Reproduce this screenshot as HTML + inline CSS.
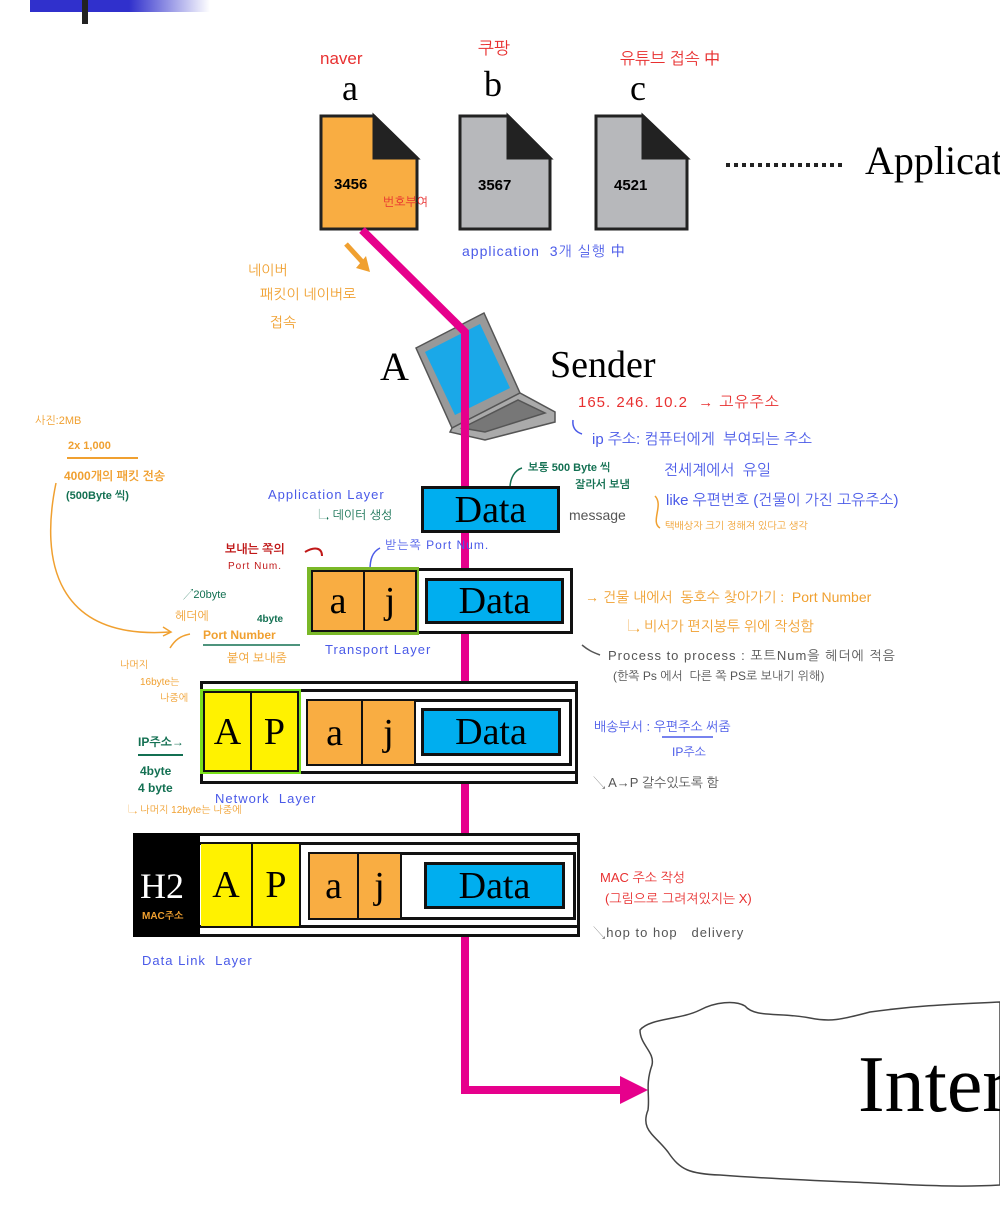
<!DOCTYPE html>
<html><head><meta charset="utf-8"><style>
body{margin:0;width:1000px;height:1206px;position:relative;background:#fff;overflow:hidden;font-family:"Liberation Sans","Noto Sans CJK KR",sans-serif}
.a{position:absolute;white-space:nowrap;line-height:1}
.s{font-family:"Liberation Serif",serif;color:#000}
.h{font-family:"Liberation Sans","NanumGothic","Noto Sans CJK KR",sans-serif;font-size:13px}
.o{color:#f0a030}.r{color:#e83030}.b{color:#4a5ae8}.g{color:#137052}.k{color:#555}
.box{position:absolute;box-sizing:border-box}
.cell{position:absolute;box-sizing:border-box;display:flex;align-items:center;justify-content:center;font-family:"Liberation Serif",serif;font-size:38px}
</style></head><body>
<div class="box" style="left:30px;top:0;width:180px;height:12px;background:linear-gradient(90deg,#3030cc 0%,#3030cc 55%,#fff 100%)"></div>
<div class="box" style="left:82px;top:0;width:6px;height:24px;background:#222"></div>

<svg width="1000" height="1206" style="position:absolute;left:0;top:0">
 <g stroke="#222" stroke-width="3">
  <path d="M321 116H374L417 158V229H321Z" fill="#f9ad42"/>
  <path d="M374 116V158H417Z" fill="#222"/>
  <path d="M460 116H508L550 158V229H460Z" fill="#b7b8bb"/>
  <path d="M508 116V158H550Z" fill="#222"/>
  <path d="M596 116H643L687 158V229H596Z" fill="#b7b8bb"/>
  <path d="M643 116V158H687Z" fill="#222"/>
 </g>
 <!-- dotted line -->
 <path d="M726 165H845" stroke="#222" stroke-width="4" stroke-dasharray="4 4"/>
 <!-- laptop -->
 <g stroke="#555" stroke-width="1.5">
  <path d="M416 348L484 313L520 393L452 428Z" fill="#999"/>
  <path d="M425 352L480 324L510 388L455 415Z" fill="#1aa8e8" stroke="none"/>
  <path d="M452 428L520 393L555 412L555 422L485 440L450 432Z" fill="#aaa"/>
  <path d="M462 428L518 400L545 413L485 432Z" fill="#777"/>
 </g>
 <path d="M346 244L366 266" stroke="#f0a030" stroke-width="5"/>
 <path d="M356 268L370 272L366 256Z" fill="#f0a030"/>
 <path d="M362 230L465 332V1090H625" stroke="#e6008c" stroke-width="8" fill="none"/>
 <path d="M620 1076L648 1090L620 1104Z" fill="#e6008c"/>
 <path d="M640 1030C650 1018 680 1020 700 1010C715 1002 735 1000 745 1006C755 1018 780 1012 810 1018C830 1022 840 1020 870 1012C920 1005 960 1004 1000 1002V1185C950 1188 900 1184 850 1182C800 1180 760 1178 720 1175C690 1174 680 1170 668 1152C655 1135 640 1130 648 1110C650 1095 645 1085 652 1065C655 1052 640 1045 640 1030Z" fill="#fff" stroke="#444" stroke-width="1.5"/>
 <path d="M56 483C40 560 55 640 170 632" stroke="#f0a030" stroke-width="1.5" fill="none"/>
 <path d="M163 627L171 632L163 636" stroke="#f0a030" stroke-width="1.5" fill="none"/>
 <path d="M170 648C175 640 180 636 190 634" stroke="#f0a030" stroke-width="1.5" fill="none"/>
 <path d="M322 556C322 548 315 546 305 552" stroke="#c01818" stroke-width="2" fill="none"/>
 <path d="M370 570C370 560 372 552 380 548" stroke="#4a5ae8" stroke-width="1.5" fill="none"/>
 <path d="M510 488C510 478 515 470 522 468" stroke="#137052" stroke-width="1.5" fill="none"/>
 <path d="M655 496C664 505 650 522 660 528" stroke="#f0a030" stroke-width="1.5" fill="none"/>
 <path d="M582 645C588 650 592 652 600 655" stroke="#555" stroke-width="1.5" fill="none"/>
 <path d="M573 420C572 428 576 432 582 434" stroke="#4a5ae8" stroke-width="1.5" fill="none"/>
 <path d="M67 458H138" stroke="#f0a030" stroke-width="2"/>
 <path d="M203 645H300" stroke="#137052" stroke-width="1.5"/>
 <path d="M138 755H183" stroke="#137052" stroke-width="2"/>
 <path d="M662 737H713" stroke="#4a5ae8" stroke-width="1.5"/>
</svg>

<div class="a h r" style="left:320px;top:50px;font-size:17px">naver</div>
<div class="a h r" style="left:478px;top:40px;font-size:17px">쿠팡</div>
<div class="a h r" style="left:620px;top:52px;font-size:16px">유튜브 접속 中</div>
<div class="a s" style="left:342px;top:70px;font-size:36px">a</div>
<div class="a s" style="left:484px;top:66px;font-size:36px">b</div>
<div class="a s" style="left:630px;top:70px;font-size:36px">c</div>
<div class="a h" style="left:334px;top:177px;font-size:15px;font-weight:bold">3456</div>
<div class="a h r" style="left:383px;top:196px;font-size:12px">번호부여</div>
<div class="a h" style="left:478px;top:178px;font-size:15px;font-weight:bold">3567</div>
<div class="a h" style="left:614px;top:178px;font-size:15px;font-weight:bold">4521</div>
<div class="a s" style="left:865px;top:141px;font-size:40px">Applicat</div>
<div class="a h b" style="left:462px;top:244px;font-size:14px;letter-spacing:1px">application &nbsp;3개 실행 中</div>
<div class="a h o" style="left:248px;top:263px;font-size:14px">네이버</div>
<div class="a h o" style="left:260px;top:287px;font-size:14px">패킷이 네이버로</div>
<div class="a h o" style="left:270px;top:315px;font-size:14px">접속</div>
<div class="a s" style="left:380px;top:347px;font-size:40px">A</div>
<div class="a s" style="left:550px;top:346px;font-size:38px">Sender</div>

<div class="a h r" style="left:578px;top:395px;font-size:15px;letter-spacing:1px">165. 246. 10.2 &nbsp;→ 고유주소</div>
<div class="a h b" style="left:592px;top:432px;font-size:15px">ip 주소: 컴퓨터에게 &nbsp;부여되는 주소</div>
<div class="a h b" style="left:664px;top:463px;font-size:15px">전세계에서 &nbsp;유일</div>
<div class="a h b" style="left:666px;top:493px;font-size:15px">like 우편번호 (건물이 가진 고유주소)</div>
<div class="a h o" style="left:665px;top:522px;font-size:10px">택배상자 크기 정해져 있다고 생각</div>
<div class="a h k" style="left:569px;top:508px;font-size:14px">message</div>
<div class="a h g" style="left:528px;top:463px;font-size:11px;font-weight:bold">보통 500 Byte 씩</div>
<div class="a h g" style="left:575px;top:480px;font-size:11px;font-weight:bold">잘라서 보냄</div>

<div class="a h b" style="left:268px;top:488px;font-size:13px;letter-spacing:1px">Application Layer</div>
<div class="a h g" style="left:318px;top:509px;font-size:12px">↳ 데이터 생성</div>
<div class="cell" style="left:421px;top:486px;width:139px;height:47px;background:#00aeef;border:3px solid #111">Data</div>

<div class="a h" style="left:225px;top:543px;font-size:12px;color:#c01818;font-weight:bold">보내는 쪽의</div>
<div class="a h" style="left:228px;top:562px;font-size:10px;color:#c01818;letter-spacing:1px">Port Num.</div>
<div class="a h b" style="left:385px;top:539px;font-size:12px;letter-spacing:1px">받는쪽 Port Num.</div>
<div class="box" style="left:308px;top:568px;width:265px;height:66px;border:3px solid #111;background:#fff"></div>
<div class="box" style="left:307px;top:567px;width:112px;height:68px;border:3px solid #7ab828;background:#7ab828"></div>
<div class="cell" style="left:311px;top:570px;width:54px;height:62px;background:#f9ad42;border:2px solid #111">a</div>
<div class="cell" style="left:363px;top:570px;width:54px;height:62px;background:#f9ad42;border:2px solid #111">j</div>
<div class="cell" style="left:425px;top:578px;width:139px;height:46px;background:#00aeef;border:3px solid #111">Data</div>
<div class="a h b" style="left:325px;top:643px;font-size:13px;letter-spacing:1px">Transport Layer</div>
<div class="a h o" style="left:585px;top:590px;font-size:14px">→ 건물 내에서 &nbsp;동호수 찾아가기 : &nbsp;Port Number</div>
<div class="a h o" style="left:627px;top:619px;font-size:14px">↳ 비서가 편지봉투 위에 작성함</div>
<div class="a h k" style="left:608px;top:649px;font-size:13px;letter-spacing:1px">Process to process : 포트Num을 헤더에 적음</div>
<div class="a h k" style="left:613px;top:670px;font-size:12px">(한쪽 Ps 에서 &nbsp;다른 쪽 PS로 보내기 위해)</div>

<div class="a h o" style="left:35px;top:416px;font-size:11px">사진:2MB</div>
<div class="a h o" style="left:68px;top:441px;font-size:11px;font-weight:bold">2x 1,000</div>
<div class="a h o" style="left:64px;top:470px;font-size:12px;font-weight:bold">4000개의 패킷 전송</div>
<div class="a h g" style="left:66px;top:491px;font-size:11px;font-weight:bold">(500Byte 씩)</div>
<div class="a h g" style="left:183px;top:590px;font-size:11px">↗20byte</div>
<div class="a h o" style="left:175px;top:610px;font-size:12px">헤더에</div>
<div class="a h g" style="left:257px;top:615px;font-size:10px;font-weight:bold">4byte</div>
<div class="a h o" style="left:203px;top:629px;font-size:12px;font-weight:bold">Port Number</div>
<div class="a h o" style="left:227px;top:652px;font-size:12px">붙여 보내줌</div>
<div class="a h o" style="left:120px;top:661px;font-size:10px">나머지</div>
<div class="a h o" style="left:140px;top:678px;font-size:10px">16byte는</div>
<div class="a h o" style="left:160px;top:694px;font-size:10px">나중에</div>
<div class="a h g" style="left:138px;top:736px;font-size:12px;font-weight:bold">IP주소→</div>
<div class="a h g" style="left:140px;top:765px;font-size:12px;font-weight:bold">4byte</div>
<div class="a h g" style="left:138px;top:782px;font-size:12px;font-weight:bold">4 byte</div>
<div class="a h o" style="left:128px;top:806px;font-size:10px">↳ 나머지 12byte는 나중에</div>

<div class="box" style="left:200px;top:681px;width:378px;height:103px;border:3px solid #111;background:#fff"></div>
<div class="box" style="left:200px;top:689px;width:378px;height:85px;border:3px solid #111;border-left:none"></div>
<div class="box" style="left:200px;top:689px;width:101px;height:85px;background:#7ae01a"></div>
<div class="cell" style="left:203px;top:691px;width:49px;height:81px;background:#fff200;border:2px solid #111">A</div>
<div class="cell" style="left:250px;top:691px;width:49px;height:81px;background:#fff200;border:2px solid #111">P</div>
<div class="box" style="left:306px;top:699px;width:266px;height:67px;border:3px solid #111;background:#fff"></div>
<div class="cell" style="left:306px;top:699px;width:57px;height:67px;background:#f9ad42;border:2px solid #111">a</div>
<div class="cell" style="left:361px;top:699px;width:55px;height:67px;background:#f9ad42;border:2px solid #111">j</div>
<div class="cell" style="left:421px;top:708px;width:140px;height:48px;background:#00aeef;border:3px solid #111">Data</div>
<div class="a h b" style="left:215px;top:792px;font-size:13px;letter-spacing:1px">Network &nbsp;Layer</div>
<div class="a h b" style="left:594px;top:720px;font-size:13px">배송부서 : 우편주소 써줌</div>
<div class="a h b" style="left:672px;top:746px;font-size:12px">IP주소</div>
<div class="a h k" style="left:593px;top:776px;font-size:13px">↘ A→P 갈수있도록 함</div>

<div class="box" style="left:133px;top:833px;width:68px;height:104px;background:#000"></div>
<div class="a s" style="left:140px;top:868px;font-size:36px;color:#fff">H2</div>
<div class="a h" style="left:142px;top:912px;font-size:10px;color:#f0a030;font-weight:bold">MAC주소</div>
<div class="box" style="left:200px;top:833px;width:380px;height:104px;border:3px solid #111;border-left:none;background:#fff"></div>
<div class="box" style="left:200px;top:842px;width:380px;height:86px;border:3px solid #111;border-left:none"></div>
<div class="cell" style="left:201px;top:842px;width:52px;height:86px;background:#fff200;border:2px solid #111;border-left:none">A</div>
<div class="cell" style="left:251px;top:842px;width:50px;height:86px;background:#fff200;border:2px solid #111">P</div>
<div class="box" style="left:308px;top:852px;width:268px;height:68px;border:3px solid #111;background:#fff"></div>
<div class="cell" style="left:308px;top:852px;width:51px;height:68px;background:#f9ad42;border:2px solid #111">a</div>
<div class="cell" style="left:357px;top:852px;width:45px;height:68px;background:#f9ad42;border:2px solid #111">j</div>
<div class="cell" style="left:424px;top:862px;width:141px;height:47px;background:#00aeef;border:3px solid #111">Data</div>
<div class="a h b" style="left:142px;top:954px;font-size:13px;letter-spacing:1px">Data Link &nbsp;Layer</div>
<div class="a h r" style="left:600px;top:871px;font-size:13px">MAC 주소 작성</div>
<div class="a h r" style="left:605px;top:892px;font-size:13px">(그림으로 그려져있지는 X)</div>
<div class="a h k" style="left:593px;top:926px;font-size:13px;letter-spacing:1px">↘hop to hop &nbsp;&nbsp;delivery</div>

<div class="a s" style="left:858px;top:1045px;font-size:80px">Inter</div>
</body></html>
